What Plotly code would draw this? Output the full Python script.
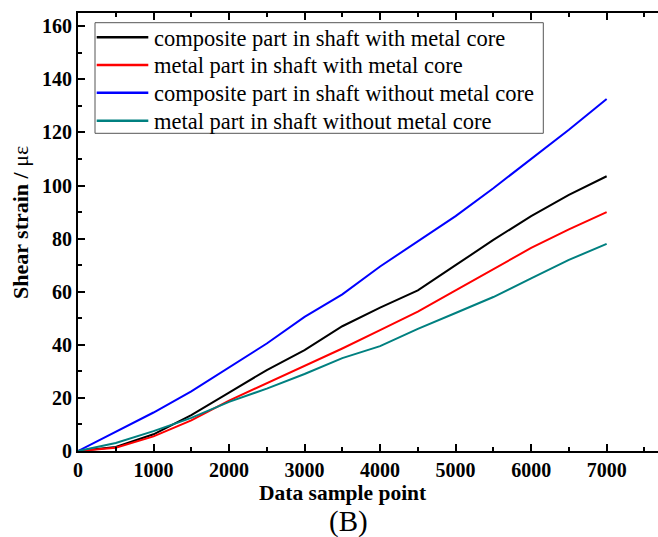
import plotly.graph_objects as go

x_points = [0, 500, 1000, 1500, 2000, 2500, 3000, 3500, 4000, 4500, 5000, 5500, 6000, 6500, 7000]

composite_with_core = [0, 1.5, 6.3, 13.5, 22, 30.5, 38, 47, 54, 60.5, 70, 79.5, 88.5, 96.5, 103.5]
metal_with_core = [0, 1.2, 5.5, 11.5, 19, 25.5, 32, 38.6, 45.5, 52.5, 60.5, 68.5, 76.5, 83.5, 90]
composite_without_core = [0, 7.2, 14.5, 22.5, 31.5, 40.5, 50.5, 59, 69.5, 79, 88.5, 99, 110, 121, 132.6]
metal_without_core = [0, 3, 7.5, 12.5, 18.5, 23.5, 29, 35, 39.5, 46, 52, 58, 65, 72, 78]

series_names = [
    "composite part in shaft with metal core",
    "metal part in shaft with metal core",
    "composite part in shaft without metal core",
    "metal part in shaft without metal core",
]
series_values = [composite_with_core, metal_with_core, composite_without_core, metal_without_core]
series_colors = ["#000000", "#ff0000", "#0000ff", "#008080"]

x_title = "Data sample point"
y_title_bold = "Shear strain /"
y_title_unit = "με"
caption = "(B)"

FONT = "Liberation Serif, Times New Roman, serif"

W, H = 658, 537
ML, MR, MT, MB = 78, 0, 13, 86
PW, PH = W - ML - MR, H - MT - MB


def px(xp):
    return (xp - ML) / PW


def py(yp):
    return (H - MB - yp) / PH


fig = go.Figure()
for name, vals, col in zip(series_names, series_values, series_colors):
    fig.add_trace(go.Scatter(x=x_points, y=vals, mode="lines", name=name,
                             line=dict(color=col, width=2), showlegend=False))

axis_common = dict(
    showline=True, linecolor="black", linewidth=2,
    ticks="inside", ticklen=7, tickwidth=2, tickcolor="black",
    showgrid=False, zeroline=False,
    tickfont=dict(family=FONT, size=20, color="black", weight="bold"),
)

# manual legend (box, line samples, labels)
shapes = [dict(type="rect", xref="paper", yref="paper",
               x0=px(95), x1=px(543.3), y0=py(133.3), y1=py(22.7),
               line=dict(color="#555555", width=1), fillcolor="white", layer="above")]
annotations = []
row_y = [37.3, 65, 92.7, 120.7]
for name, col, ry in zip(series_names, series_colors, row_y):
    shapes.append(dict(type="line", xref="paper", yref="paper",
                       x0=px(96.7), x1=px(148.3), y0=py(ry), y1=py(ry),
                       line=dict(color=col, width=2.5), layer="above"))
    annotations.append(dict(text=name, xref="paper", yref="paper",
                            x=px(152), y=py(ry + 1), xanchor="left", yanchor="middle",
                            showarrow=False,
                            font=dict(family=FONT, size=22.5, color="black")))

annotations.append(dict(text=x_title, xref="paper", yref="paper",
                        x=px(343), y=py(493), xanchor="center", yanchor="middle",
                        showarrow=False,
                        font=dict(family=FONT, size=21.5, color="black", weight="bold")))
annotations.append(dict(text="<b>" + y_title_bold + "</b> " + y_title_unit,
                        xref="paper", yref="paper",
                        x=px(20), y=py(223), xanchor="center", yanchor="middle",
                        textangle=-90, showarrow=False,
                        font=dict(family=FONT, size=22, color="black")))
annotations.append(dict(text=caption, xref="paper", yref="paper",
                        x=px(348), y=py(521), xanchor="center", yanchor="middle",
                        showarrow=False,
                        font=dict(family=FONT, size=29, color="black")))

fig.update_layout(
    width=W, height=H,
    margin=dict(l=ML, r=MR, t=MT, b=MB),
    paper_bgcolor="white", plot_bgcolor="white",
    font=dict(family=FONT, color="black"),
    xaxis=dict(
        range=[0, 7680], tick0=0, dtick=1000, mirror="allticks",
        minor=dict(dtick=500, ticks="inside", ticklen=4, tickwidth=2, tickcolor="black"),
        **axis_common,
    ),
    yaxis=dict(
        range=[0, 165], tick0=0, dtick=20,
        minor=dict(dtick=10, ticks="inside", ticklen=4, tickwidth=2, tickcolor="black"),
        **axis_common,
    ),
    showlegend=False,
    shapes=shapes,
    annotations=annotations,
)

fig.write_html("out.html")
